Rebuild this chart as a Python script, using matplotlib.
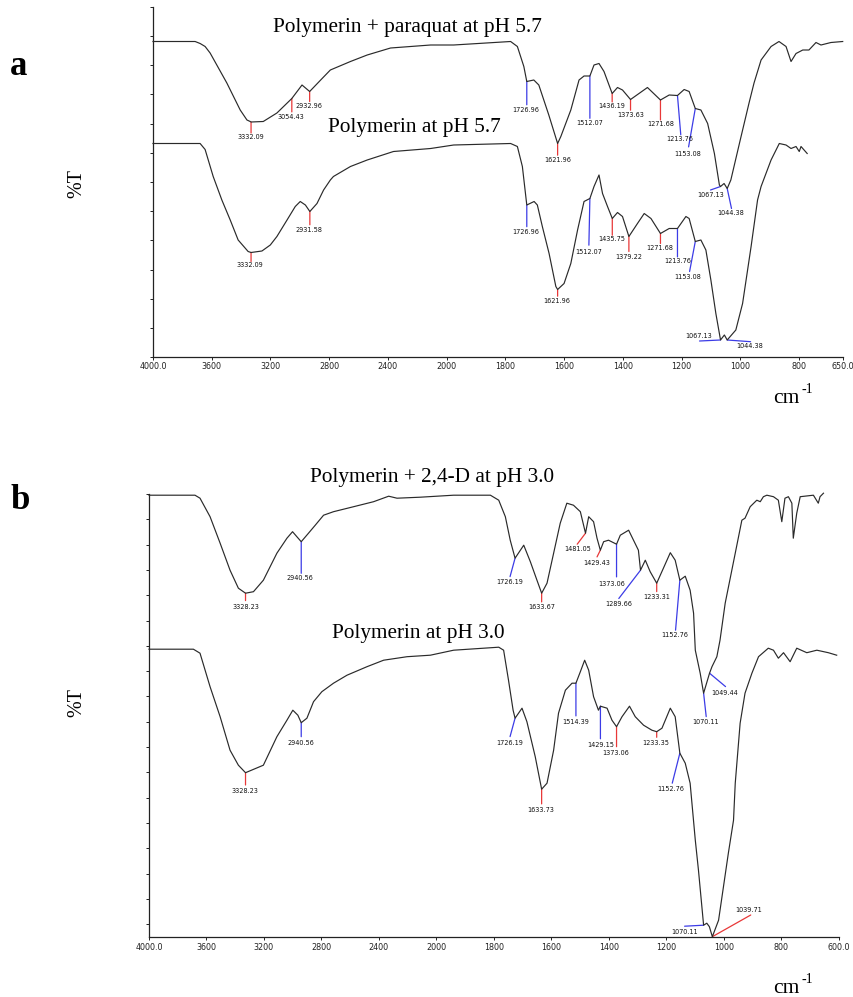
import matplotlib
matplotlib.use('Agg')
import matplotlib.pyplot as plt
import numpy as np

# ---------------- spectra: wavenumber (cm-1) and %T (arbitrary units) ----------------
# panel a, polymerin + paraquat at pH 5.7
a_top_wn = [4000, 3713, 3679, 3645, 3611, 3497, 3406, 3360, 3338, 3332.09, 3249, 3156, 3054.43,
            2985, 2932.96, 2848, 2792, 2655, 2541, 2382, 2109, 1976, 1782, 1759, 1737, 1726.96,
            1703, 1686, 1652, 1621.96, 1611, 1577, 1549, 1532, 1512.07, 1498, 1481, 1464,
            1436.19, 1418, 1401, 1373.63, 1316, 1271.68, 1242, 1213.76, 1191, 1174, 1153.08,
            1134, 1111, 1088, 1071, 1067.13, 1055, 1044.38, 1032, 1000, 970, 953, 929, 895, 868,
            844, 827, 810, 787, 766, 742, 725, 691, 651]
a_top_t = [63.1, 63.1, 62.7, 62.1, 60.8, 54.8, 49.4, 47.4, 47.1, 47.0, 47.1, 48.8, 51.7,
           54.4, 53.1, 55.7, 57.4, 59.1, 60.4, 61.8, 62.4, 62.4, 63.1, 62.1, 58.1, 55.1,
           55.4, 54.4, 48.4, 42.7, 44.1, 49.4, 55.4, 56.2, 56.2, 58.4, 58.7, 57.1,
           52.7, 53.9, 53.4, 51.5, 53.9, 51.4, 52.4, 52.3, 53.5, 53.1, 49.7,
           49.4, 46.7, 40.7, 34.4, 34.1, 34.7, 33.7, 35.4, 43.4, 50.8, 54.8, 59.4, 62.1, 63.1,
           62.1, 59.1, 60.7, 61.4, 61.4, 62.9, 62.4, 62.9, 63.1]

# panel a, polymerin at pH 5.7
a_low_wn = [4000, 3679, 3645, 3590, 3531, 3474, 3420, 3352, 3332.09, 3258, 3201, 3156, 3087,
            3031, 2997, 2962, 2931.58, 2883, 2838, 2792, 2771, 2655, 2541, 2362, 2109, 1976,
            1782, 1759, 1742, 1726.96, 1702, 1691, 1674, 1651, 1628, 1621.96, 1600, 1577, 1554,
            1532, 1512.07, 1498, 1481, 1469, 1452, 1435.75, 1418, 1401, 1379.22, 1350, 1327,
            1304, 1276, 1271.68, 1242, 1213.76, 1185, 1174, 1153.08, 1134, 1117, 1100, 1083,
            1067.13, 1054, 1044.38, 1015, 992, 963, 941, 929, 895, 867, 844, 827, 810, 799,
            793, 772]
a_low_t = [42.7, 42.7, 41.5, 36.1, 31.4, 27.4, 23.4, 21.1, 20.9, 21.2, 22.4, 24.1, 27.4,
           30.1, 31.1, 30.4, 29.1, 30.7, 33.4, 35.4, 36.1, 38.1, 39.4, 41.1, 41.7, 42.4,
           42.7, 42.1, 38.1, 30.4, 31.1, 30.4, 26.1, 20.7, 14.1, 13.5, 14.7, 18.7, 25.4,
           31.1, 31.7, 34.1, 36.4, 32.7, 30.1, 27.7, 28.9, 28.1, 24.1, 26.7, 28.7,
           27.7, 25.1, 24.7, 25.7, 25.7, 28.1, 27.7, 23.1, 23.4, 21.4, 15.4, 8.7,
           3.4, 4.4, 3.4, 5.4, 10.7, 22.1, 31.4, 34.1, 39.4, 42.7, 42.4, 41.7, 42.1, 41.1,
           42.1, 40.7]

# panel b, polymerin + 2,4-D at pH 3.0
b_top_wn = [4000, 3680, 3645, 3575, 3505, 3436, 3378, 3328.23, 3273, 3204, 3110, 3040, 3001,
            2971, 2940.56, 2890, 2843, 2785, 2716, 2576, 2437, 2332, 2274, 2112, 1940, 1812,
            1783, 1760, 1743, 1726.19, 1696, 1673, 1650, 1633.67, 1615, 1592, 1569, 1546, 1523,
            1499, 1481.05, 1470, 1453, 1441, 1429.43, 1418, 1401, 1373.06, 1360, 1331, 1297,
            1289.66, 1273, 1256, 1233.31, 1210, 1186, 1169, 1152.76, 1134, 1117, 1105, 1099,
            1082, 1070.11, 1049.44, 1041, 1024, 1013, 995, 960, 937, 926, 908, 885, 873, 862,
            850, 827, 810, 798, 787, 775, 763, 758, 746, 734, 688, 671, 665, 653]
b_top_t = [88.3, 88.3, 87.7, 84.0, 78.7, 73.3, 69.7, 68.7, 69.0, 71.3, 76.7, 79.7, 81.0,
           80.0, 79.0, 80.7, 82.3, 84.3, 85.0, 86.0, 87.0, 88.1, 87.7, 87.9, 88.3, 88.3,
           87.3, 84.0, 79.3, 75.7, 78.3, 75.0, 71.3, 68.7, 70.7, 76.7, 82.7, 86.7, 86.3,
           85.0, 80.7, 84.0, 83.0, 79.7, 77.3, 79.0, 79.3, 78.5, 80.3, 81.3, 77.3,
           73.3, 75.3, 73.0, 70.7, 73.7, 76.8, 75.3, 71.3, 72.1, 69.3, 64.7, 57.3,
           52.7, 48.7, 52.7, 54.0, 56.0, 59.3, 66.7, 76.7, 83.3, 83.7, 86.0, 87.3, 87.0, 88.0,
           88.3, 88.0, 87.3, 83.0, 87.7, 88.0, 86.7, 79.7, 84.7, 88.0, 88.3, 86.7, 88.0, 88.7]

# panel b, polymerin at pH 3.0
b_low_wn = [4000, 3691, 3645, 3575, 3505, 3436, 3378, 3328.23, 3204, 3110, 3040, 2999, 2964,
            2940.56, 2901, 2855, 2797, 2716, 2622, 2483, 2367, 2204, 2042, 1940, 1783, 1766,
            1749, 1733, 1726.19, 1702, 1685, 1656, 1633.73, 1615, 1592, 1575, 1551, 1528,
            1514.39, 1499, 1484, 1470, 1453, 1436, 1429.15, 1406, 1389, 1373.06, 1354, 1328,
            1308, 1279, 1250, 1233.35, 1215, 1186, 1169, 1152.76, 1134, 1117, 1099, 1088,
            1070.11, 1059, 1050, 1039.71, 1018, 1001, 984, 966, 960, 943, 926, 902, 879, 845,
            827, 810, 792, 769, 746, 711, 676, 636, 607]
b_low_t = [57.5, 57.5, 56.7, 50.0, 44.0, 37.3, 34.3, 32.8, 34.3, 40.0, 43.3, 45.3, 44.3,
           42.8, 43.7, 47.0, 49.0, 50.7, 52.3, 54.0, 55.3, 56.0, 56.3, 57.3, 57.9, 57.3,
           51.3, 45.3, 43.7, 45.7, 43.0, 36.0, 29.5, 30.7, 37.3, 44.7, 49.3, 50.7,
           50.7, 53.0, 55.3, 53.3, 48.0, 45.3, 46.1, 45.7, 43.3, 42.0, 44.0, 46.1,
           44.0, 42.3, 41.3, 41.0, 41.7, 45.7, 44.0, 36.7, 34.7, 30.7, 19.3, 13.3,
           2.3, 2.7, 2.0, 0.0, 3.3, 10.0, 16.7, 23.3, 30.7, 42.7, 48.7, 52.7, 56.0, 57.7,
           57.3, 55.7, 56.8, 55.0, 57.7, 56.8, 57.3, 56.8, 56.3]

# peak labels
a_top_peaks = ['3332.09', '3054.43', '2932.96', '1726.96', '1621.96', '1512.07', '1436.19',
               '1373.63', '1271.68', '1213.76', '1153.08', '1067.13', '1044.38']
a_low_peaks = ['3332.09', '2931.58', '1726.96', '1621.96', '1512.07', '1435.75', '1379.22',
               '1271.68', '1213.76', '1153.08', '1067.13', '1044.38']
b_top_peaks = ['3328.23', '2940.56', '1726.19', '1633.67', '1481.05', '1429.43', '1373.06',
               '1289.66', '1233.31', '1152.76', '1070.11', '1049.44']
b_low_peaks = ['3328.23', '2940.56', '1726.19', '1633.73', '1514.39', '1429.15', '1373.06',
               '1233.35', '1152.76', '1070.11', '1039.71']

# ---------------- layout ----------------
R = '#e83838'
B = '#3c3ce6'
# leader end (dx, dy) and label centre (dx, dy) in pixels from the peak, colour
a_top_marks = [(0, -11, 0, -15, R), (0, -13.4, -1, -18.4, R), (0, -10, -1, -14.3, R),
               (0, -23.3, -0.7, -28.3, B), (0, -11.7, 0, -16.7, R), (0, -42.3, 0, -46.7, B),
               (0, -8.4, -0.7, -12.7, R), (0, -10.7, 0, -15.7, R), (0, -20, 0, -24.3, R),
               (3.3, -39.3, 2.6, -43.6, B), (-6.7, -38.4, -7.3, -45, B),
               (-10, -3.5, -10, -8.5, B), (4.3, -20, 3.3, -24.4, B)]
a_low_marks = [(0, -9, -0.7, -12.3, R), (0, -13.3, -1, -18.3, R), (0, -21.7, -0.7, -27.3, B),
               (0, -6.7, -0.6, -11.4, R), (-1, -46.7, -1, -53, B), (0, -16.7, -0.7, -20.7, R),
               (0, -15, 0, -20, R), (0, -10, -0.7, -14.4, R), (0, -28.4, 0, -32.7, B),
               (-5.7, -30, -7.3, -35, B), (-21, -1, -21.6, 4, B), (23.4, -1.7, 22.7, -5.7, B)]
b_top_marks = [(0, -7.4, 0, -13.4, R), (0, -31.6, -1, -36.6, B), (-5, -18.4, -5.7, -24, B),
               (0, -8.7, 0, -13.3, R), (-8.3, -11, -8.3, -16, R), (-3.3, -6.7, -3.7, -12.3, R),
               (0, -32.7, -5, -39.3, B), (-21.7, -28.3, -21.4, -33.3, B),
               (0, -8.4, 0, -13.7, R), (-4.3, -50, -5.3, -54.7, B), (2.6, -23.4, 2.3, -29, B),
               (16, -13.4, 15, -19.4, B)]
b_low_marks = [(0, -12.3, -0.7, -18, R), (0, -14, -0.7, -20, B), (-5, -18.4, -5.7, -25, B),
               (0, -14.7, -0.7, -20.7, R), (0, -32.7, -0.7, -38.4, B), (0, -32.6, 0, -38.3, B),
               (0, -20, -1, -26.6, R), (0, -5.6, -0.7, -11, R), (-7.6, -30, -9.3, -35.7, B),
               (-19, -1, -19, -6.7, B), (38.4, 21.7, 36.7, 26.7, R)]

SERIF = ['Liberation Serif', 'DejaVu Serif']
W, H = 854, 997


def fwd(x):
    # FTIR style axis: 4000-2000 at half the scale of 2000-600
    x = np.asarray(x, dtype=float)
    return np.where(x > 2000, 2000 + (x - 2000) / 2, x)


def inv(x):
    x = np.asarray(x, dtype=float)
    return np.where(x > 2000, 2000 + (x - 2000) * 2, x)


def setup(ax, xmin, ytop, yticks, pad):
    ax.set_xscale('function', functions=(fwd, inv))
    ax.set_xlim(4000, xmin)
    ax.set_ylim(0, ytop)
    ticks = [4000, 3600, 3200, 2800, 2400, 2000, 1800, 1600, 1400, 1200, 1000, 800, xmin]
    labels = ['4000.0'] + [str(t) for t in ticks[1:-1]] + ['%.1f' % xmin]
    ax.set_xticks(ticks)
    ax.set_xticklabels(labels)
    ax.set_yticks(yticks)
    ax.set_yticklabels([])
    ax.minorticks_off()
    ax.spines[['top', 'right']].set_visible(False)
    for s in ['left', 'bottom']:
        ax.spines[s].set_linewidth(0.9)
        ax.spines[s].set_color('#222222')
    ax.tick_params(direction='out', length=2.2, width=0.7, labelsize=5.8, pad=pad,
                   colors='#222222')
    ax.patch.set_alpha(0)


def spectrum(ax, wn, t, peaks, marks):
    ax.plot(wn, t, color='#2a2a2a', lw=0.85, clip_on=False, zorder=3)
    xs = np.array(wn)[::-1]
    ys = np.array(t)[::-1]
    for lab, (ldx, ldy, tdx, tdy, col) in zip(peaks, marks):
        x = float(lab)
        y = np.interp(x, xs, ys)
        ax.annotate('', xy=(x, y), xytext=(ldx, ldy), textcoords='offset pixels',
                    arrowprops=dict(arrowstyle='-', color=col, lw=0.9,
                                    shrinkA=0, shrinkB=0), zorder=2)
        ax.annotate(lab, xy=(x, y), xytext=(tdx, tdy), textcoords='offset pixels',
                    ha='center', va='center', fontsize=4.7, color='#111111',
                    annotation_clip=False)


def px(x, y):
    return x / W, 1 - y / H


fig = plt.figure(figsize=(W / 100, H / 100), dpi=100)

ax_a = fig.add_axes([153 / W, 1 - 357 / H, 690 / W, 350 / H])
setup(ax_a, 650, 70, np.linspace(0, 70, 13), 1.2)
spectrum(ax_a, a_top_wn, a_top_t, a_top_peaks, a_top_marks)
spectrum(ax_a, a_low_wn, a_low_t, a_low_peaks, a_low_marks)

ax_b = fig.add_axes([149 / W, 1 - 936.7 / H, 689.7 / W, 442.7 / H])
setup(ax_b, 600, 88.54, 88.54 - 5.06 * np.arange(18), 2.6)
spectrum(ax_b, b_top_wn, b_top_t, b_top_peaks, b_top_marks)
spectrum(ax_b, b_low_wn, b_low_t, b_low_peaks, b_low_marks)

# titles of the traces
fig.text(*px(407.5, 32.3), 'Polymerin + paraquat at pH 5.7', ha='center', va='baseline',
         fontsize=15.3, family=SERIF)
fig.text(*px(414.7, 131.7), 'Polymerin at pH 5.7', ha='center', va='baseline',
         fontsize=15.3, family=SERIF)
fig.text(*px(432.5, 482.3), 'Polymerin + 2,4-D at pH 3.0', ha='center', va='baseline',
         fontsize=15.3, family=SERIF)
fig.text(*px(418.3, 637.5), 'Polymerin at pH 3.0', ha='center', va='baseline',
         fontsize=15.3, family=SERIF)

# panel letters
fig.text(*px(18.8, 75), 'a', ha='center', va='baseline', fontsize=25,
         fontweight='bold', family=SERIF)
fig.text(*px(20, 509.3), 'b', ha='center', va='baseline', fontsize=25,
         fontweight='bold', family=SERIF)

# axis titles
for yc in (183, 702.5):
    fig.text(*px(76.5, yc), '%T', ha='center', va='center', rotation=90,
             fontsize=14.5, family=SERIF)
for yb in (403, 993.3):
    fig.text(*px(773.3, yb), 'cm', ha='left', va='baseline', fontsize=15.5, family=SERIF)
    fig.text(*px(801.7, yb - 10), '-1', ha='left', va='baseline', fontsize=10, family=SERIF)

fig.savefig('out.png', dpi=100)
